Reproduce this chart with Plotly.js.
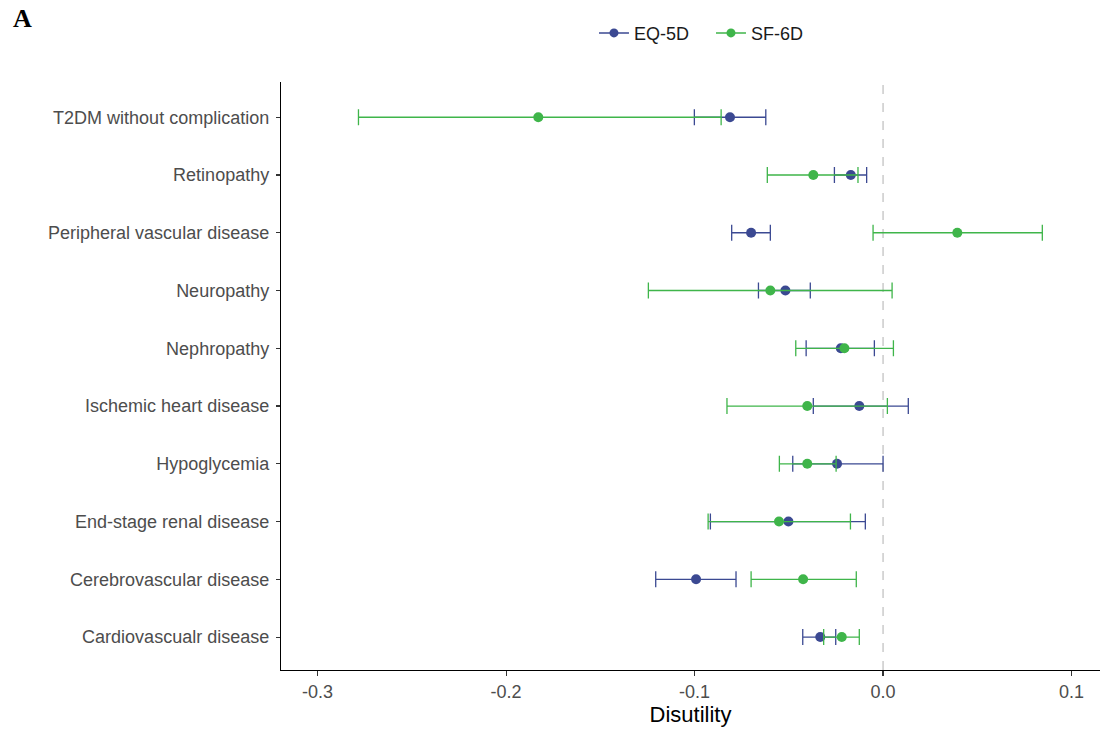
<!DOCTYPE html>
<html>
<head>
<meta charset="utf-8">
<script src="https://cdn.plot.ly/plotly-3.0.1.min.js"></script>
<style>html,body{margin:0;padding:0;background:#fff;}#chart{width:1101px;height:730px;}</style>
</head>
<body>
<div id="chart"></div>
<script>
// Categories, top to bottom
const categories = [
  "T2DM without complication",
  "Retinopathy",
  "Peripheral vascular disease",
  "Neuropathy",
  "Nephropathy",
  "Ischemic heart disease",
  "Hypoglycemia",
  "End-stage renal disease",
  "Cerebrovascular disease",
  "Cardiovascualr disease"
];
// EQ-5D estimates and 95% CI
const eq5d     = [-0.0812, -0.0171, -0.0700, -0.0518, -0.0224, -0.0126, -0.0244, -0.0502, -0.0992, -0.0333];
const eq5dLow  = [-0.1001, -0.0258, -0.0803, -0.0661, -0.0408, -0.0370, -0.0479, -0.0916, -0.1206, -0.0426];
const eq5dHigh = [-0.0622, -0.0087, -0.0598, -0.0386, -0.0046,  0.0134,  0.0000, -0.0094, -0.0780, -0.0251];
// SF-6D estimates and 95% CI
const sf6d     = [-0.1829, -0.0370,  0.0394, -0.0598, -0.0205, -0.0402, -0.0402, -0.0552, -0.0424, -0.0219];
const sf6dLow  = [-0.2783, -0.0614, -0.0053, -0.1245, -0.0463, -0.0828, -0.0550, -0.0928, -0.0700, -0.0315];
const sf6dHigh = [-0.0859, -0.0133,  0.0845,  0.0048,  0.0055,  0.0023, -0.0249, -0.0173, -0.0142, -0.0126];
// x tick values / labels
const xTickVals = [-0.3, -0.2, -0.1, 0.0, 0.1];
const xTickText = ["-0.3", "-0.2", "-0.1", "0.0", "0.1"];

const BLUE = "#3B4992";
const GREEN = "#3FB54A";

function errTrace(name, vals, lo, hi, color) {
  return {
    type: "scatter", mode: "markers", name: name, showlegend: false,
    x: vals, y: categories,
    marker: {color: color, size: 10, line: {width: 0}},
    error_x: {
      type: "data", symmetric: false,
      array: hi.map((h, i) => h - vals[i]),
      arrayminus: lo.map((l, i) => vals[i] - l),
      color: color, thickness: 1.3, width: 8
    },
    hoverinfo: "x+y+name"
  };
}
function legendTrace(name, color) {
  return {
    type: "scatter", mode: "lines+markers", name: name,
    x: [null], y: [null],
    line: {color: color, width: 1.5},
    marker: {color: color, size: 9}
  };
}

const data = [
  errTrace("EQ-5D", eq5d, eq5dLow, eq5dHigh, BLUE),
  errTrace("SF-6D", sf6d, sf6dLow, sf6dHigh, GREEN),
  legendTrace("EQ-5D", BLUE),
  legendTrace("SF-6D", GREEN)
];

const layout = {
  width: 1101, height: 730,
  margin: {l: 281, r: 1, t: 82, b: 60},
  paper_bgcolor: "#fff", plot_bgcolor: "#fff",
  font: {family: "Liberation Sans, Arial, sans-serif", color: "#4D4D4D", size: 18},
  title: {
    text: "<b>A</b>", xref: "container", yref: "container",
    x: 13/1101, xanchor: "left", y: 1 - 18/730, yanchor: "middle",
    font: {family: "Liberation Serif, Times New Roman, serif", size: 26, color: "#000"}
  },
  showlegend: true,
  legend: {
    orientation: "h", x: 0.525, xanchor: "center", y: 1.083, yanchor: "middle",
    entrywidth: 72, entrywidthmode: "pixels",
    font: {size: 18, color: "#1A1A1A"}, bgcolor: "rgba(0,0,0,0)"
  },
  xaxis: {
    range: [-0.3194, 0.1151],
    tickvals: xTickVals, ticktext: xTickText,
    showgrid: false, zeroline: false,
    showline: true, linecolor: "#000", linewidth: 1.2,
    ticks: "outside", ticklen: 5, tickcolor: "#333", tickwidth: 1.1,
    tickfont: {size: 18, color: "#4D4D4D"},
    title: {text: "Disutility", font: {size: 22, color: "#000"}, standoff: 5}
  },
  yaxis: {
    type: "category",
    categoryorder: "array", categoryarray: categories.slice().reverse(),
    range: [-0.57, 9.61],
    showgrid: false, zeroline: false,
    showline: true, linecolor: "#000", linewidth: 1.2,
    ticks: "outside", ticklen: 4, tickcolor: "#333", tickwidth: 1.1,
    ticklabelstandoff: 3,
    tickfont: {size: 18, color: "#4D4D4D"}
  },
  shapes: [{
    type: "line", xref: "x", yref: "paper", x0: 0, x1: 0, y0: 0, y1: 1,
    line: {color: "#BEBEBE", width: 1.2, dash: "dash"}, layer: "below"
  }]
};

Plotly.newPlot("chart", data, layout, {displayModeBar: false, staticPlot: true});
</script>
</body>
</html>
